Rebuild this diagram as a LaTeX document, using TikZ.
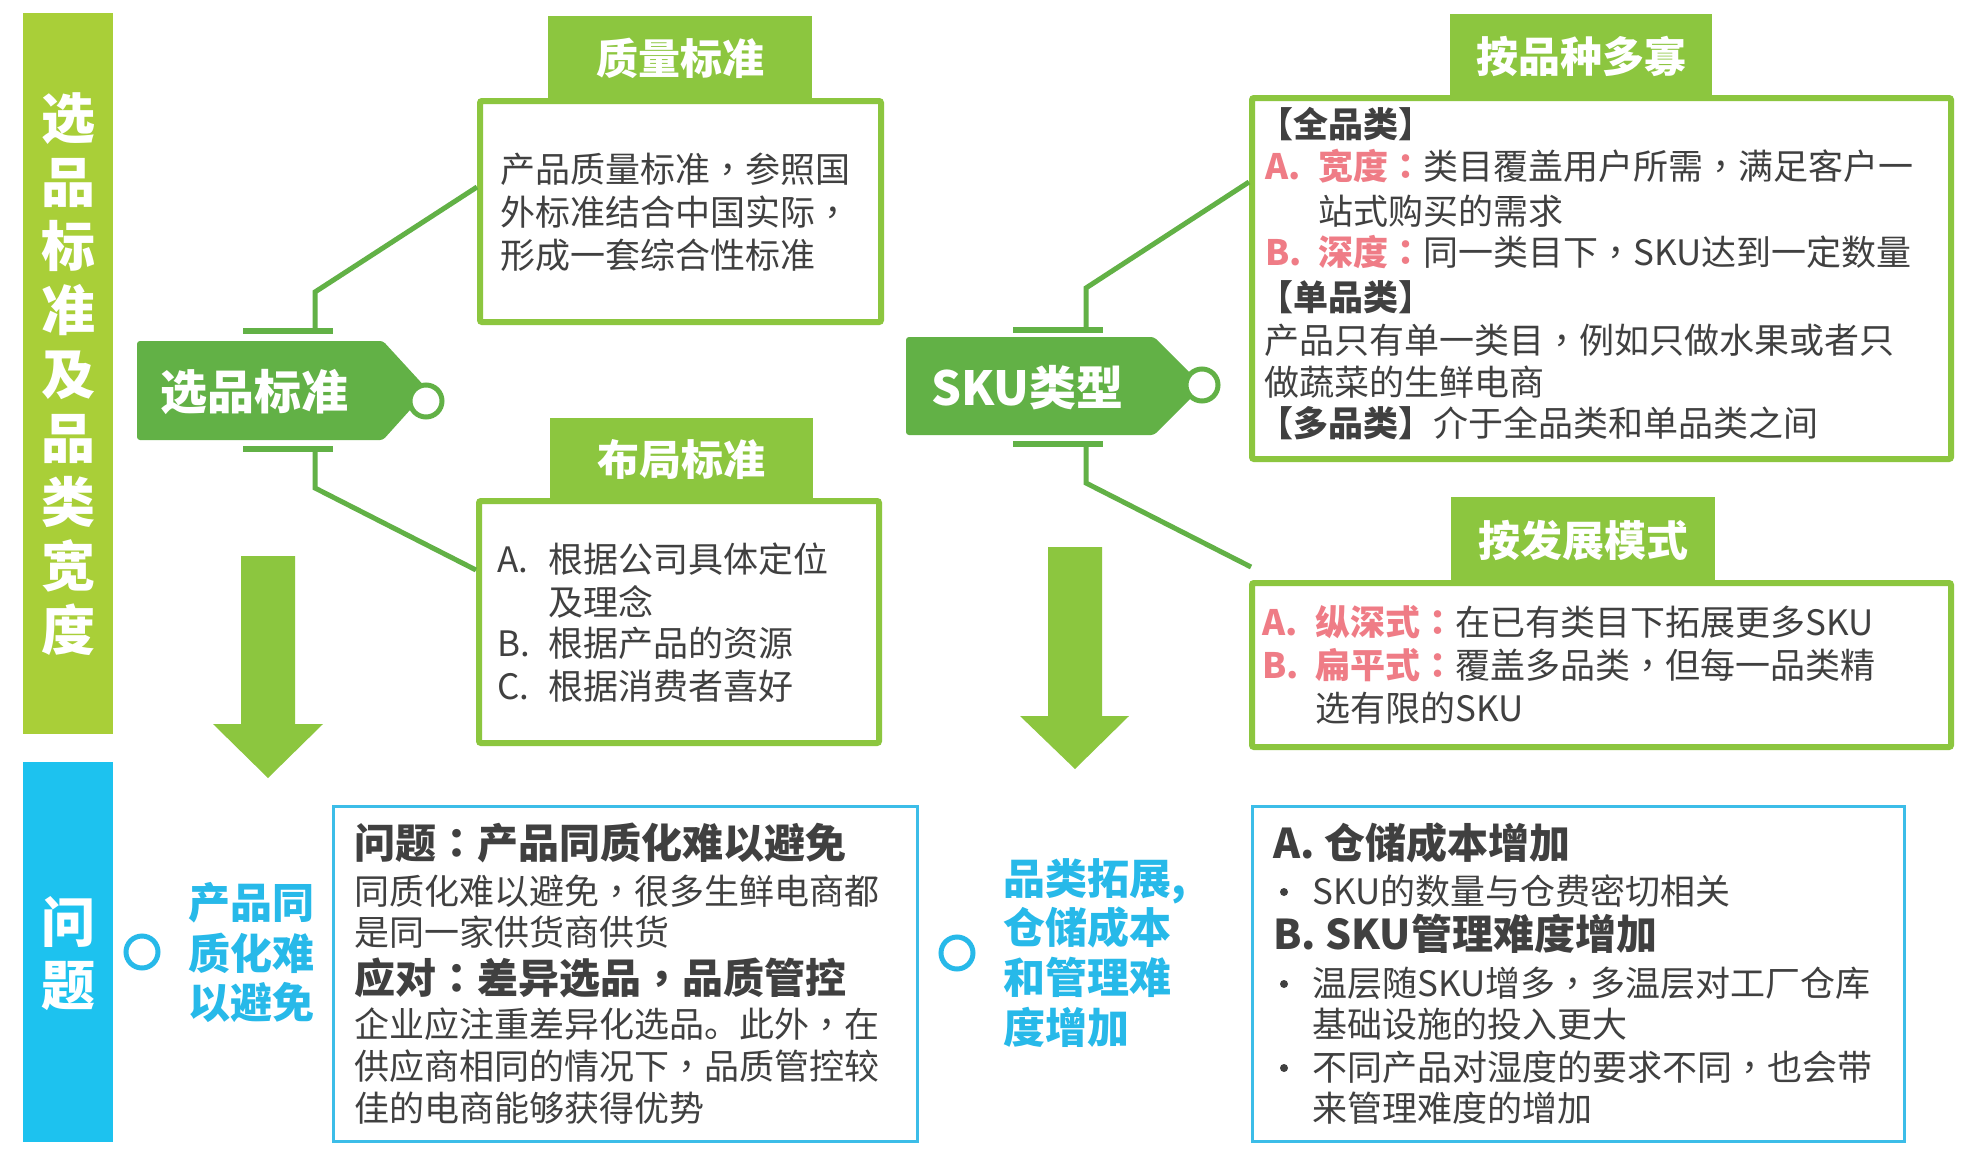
\documentclass[tikz,border=0pt]{standalone}
\usepackage{fontspec}
\setmainfont{Noto Sans CJK SC}
\newfontfamily\tcf{Noto Sans CJK TC}
\newcommand\cmx{{\tcf ，}}
\newcommand\clx{{\tcf ：}}
\definecolor{limebar}{HTML}{A9CF38}
\definecolor{cyanbar}{HTML}{1DC2EF}
\definecolor{tagg}{HTML}{62B146}
\definecolor{boxg}{HTML}{8CC63F}
\definecolor{pinkt}{HTML}{EF7C86}
\definecolor{tgray}{HTML}{404040}
\definecolor{cyant}{HTML}{27B9E9}
\definecolor{cyanb}{HTML}{3CBDE8}
\begin{document}
\begin{tikzpicture}[x=1pt,y=-1pt,
  txt/.style={anchor=west,inner sep=0pt,text=tgray,font=\fontsize{35pt}{42pt}\selectfont,text height=30.8pt,text depth=4.2pt},
  hd/.style={anchor=west,inner sep=0pt,text=tgray,font=\bfseries\fontsize{41pt}{48pt}\selectfont,text height=36.1pt,text depth=4.9pt},
  bluet/.style={anchor=west,inner sep=0pt,text=cyant,font=\bfseries\fontsize{42pt}{50pt}\selectfont,text height=37pt,text depth=5pt},
  bartxt/.style={anchor=center,inner sep=0pt,text=white,font=\bfseries\fontsize{54pt}{64pt}\selectfont,text height=47.5pt,text depth=6.5pt},
  tabbox/.style={fill=boxg,draw=none,inner sep=0pt,text=white,font=\bfseries\fontsize{42pt}{50pt}\selectfont,text height=37pt,text depth=5pt},
  gbox/.style={draw=boxg,fill=white,line width=6pt,rounded corners=2pt,inner sep=0pt},
  bbox/.style={draw=cyanb,fill=white,line width=3pt,inner sep=0pt},
  conn/.style={draw=tagg,line width=5pt},
  tbar/.style={draw=tagg,line width=6pt},
  tagtxt/.style={anchor=west,inner sep=0pt,text=white,font=\bfseries\fontsize{47pt}{55pt}\selectfont,text height=41.4pt,text depth=5.6pt},
  ring/.style={draw=tagg,fill=white,line width=5pt},
  bring/.style={draw=cyant,fill=white,line width=5pt},
  bul/.style={circle,fill=tgray,draw=none,inner sep=0pt,minimum size=8pt},
  garrow/.style={fill=boxg,draw=none}
]
\useasboundingbox (0,0) rectangle (1968,1151);
\fill[white] (0,0) rectangle (1968,1151);

% side bars
\node[fill=limebar,inner sep=0pt,minimum width=90pt,minimum height=721pt] (sidebar1) at (68,373.5) {};
\foreach \c [count=\i] in {选,品,标,准,及,品,类,宽,度}
  \node[bartxt] (v\i) at (68,{118+(\i-1)*64}) {\c};
\node[fill=cyanbar,inner sep=0pt,minimum width=90pt,minimum height=380pt] (sidebar2) at (68,952) {};
\node[bartxt] (w1) at (68,922) {问};
\node[bartxt] (w2) at (68,985) {题};

% tabs
\node[tabbox,minimum width=264pt,minimum height=85pt] (qtab) at (680,58.5) {质量标准};
\node[tabbox,minimum width=263pt,minimum height=83pt] (ltab) at (681.5,459.5) {布局标准};
\node[tabbox,minimum width=262pt,minimum height=84pt] (rtab1) at (1581,56) {按品种多寡};
\node[tabbox,minimum width=264pt,minimum height=86pt] (rtab2) at (1583,540) {按发展模式};

% green boxes
\node[gbox,minimum width=401pt,minimum height=221pt] (qbox) at (680.5,211.5) {};
\node[gbox,minimum width=400pt,minimum height=242pt] (lbox) at (679,622) {};
\node[gbox,minimum width=699pt,minimum height=361pt] (rbox1) at (1601.5,278.5) {};
\node[gbox,minimum width=699pt,minimum height=164pt] (rbox2) at (1601.5,665) {};

% blue boxes
\node[bbox,minimum width=584pt,minimum height=335pt] (bbox1) at (625.5,974) {};
\node[bbox,minimum width=652pt,minimum height=335pt] (bbox2) at (1578.5,974) {};

% arrows
\path[garrow] (241,556) -- (295,556) -- (295,724) -- (323,724) -- (268,778) -- (213,724) -- (241,724) -- cycle;
\path[garrow] (1048,547) -- (1102,547) -- (1102,716) -- (1129,716) -- (1075,769) -- (1020,716) -- (1048,716) -- cycle;

% connector coordinates
\coordinate (ltb1) at (243,331); \coordinate (ltb2) at (333,331);
\coordinate (lbb1) at (243,449); \coordinate (lbb2) at (333,449);
\coordinate (lt0) at (315,331); \coordinate (lt1) at (315,292); \coordinate (lt2) at (477,187);
\coordinate (lb0) at (315,449); \coordinate (lb1) at (315,488); \coordinate (lb2) at (476,570);
\coordinate (rtb1) at (1013,330); \coordinate (rtb2) at (1103,330);
\coordinate (rbb1) at (1013,444); \coordinate (rbb2) at (1103,444);
\coordinate (rt0) at (1086,330); \coordinate (rt1) at (1086,288); \coordinate (rt2) at (1249,182);
\coordinate (rb0) at (1086,444); \coordinate (rb1) at (1086,483); \coordinate (rb2) at (1251,567);

\draw[conn] (lt0) -- (lt1) -- (lt2);
\draw[conn] (lb0) -- (lb1) -- (lb2);
\draw[conn] (rt0) -- (rt1) -- (rt2);
\draw[conn] (rb0) -- (rb1) -- (rb2);
\draw[tbar] (ltb1) -- (ltb2);
\draw[tbar] (lbb1) -- (lbb2);
\draw[tbar] (rtb1) -- (rtb2);
\draw[tbar] (rbb1) -- (rbb2);

% tags
\fill[tagg,rounded corners=3pt] (137,341) -- (383,341) -- (428,390) -- (383,440) -- (137,440) -- cycle;
\draw[ring] (426,401) circle[radius=16pt];
\node[tagtxt] (tag1) at (160,392) {选品标准};
\fill[tagg,rounded corners=3pt] (906,337) -- (1154,337) -- (1203,386) -- (1154,435) -- (906,435) -- cycle;
\draw[ring] (1202,385) circle[radius=16pt];
\node[tagtxt] (tag2) at (931,388) {SKU类型};

% quality box text
\node[txt] (q1) at (500,169) {产品质量标准\cmx 参照国};
\node[txt] (q2) at (500,212) {外标准结合中国实际\cmx};
\node[txt] (q3) at (500,255) {形成一套综合性标准};

% layout box text
\node[txt] (la) at (497,559) {A.};
\node[txt] (lat) at (548,559) {根据公司具体定位};
\node[txt] (la2) at (548,602) {及理念};
\node[txt] (lb) at (497,643) {B.};
\node[txt] (lbt) at (548,643) {根据产品的资源};
\node[txt] (lc) at (497,686) {C.};
\node[txt] (lct) at (548,686) {根据消费者喜好};

% right box 1 text
\node[txt] (r1) at (1258,124) {\bfseries 【全品类】};
\node[txt] (r2a) at (1265,166) {\color{pinkt}\bfseries A.};
\node[txt] (r2) at (1318,166) {{\color{pinkt}\bfseries 宽度\clx}类目覆盖用户所需\cmx 满足客户一};
\node[txt] (r3) at (1318,211) {站式购买的需求};
\node[txt] (r4a) at (1265,252) {\color{pinkt}\bfseries B.};
\node[txt] (r4) at (1318,252) {{\color{pinkt}\bfseries 深度\clx}同一类目下\cmx SKU达到一定数量};
\node[txt] (r5) at (1258,297) {\bfseries 【单品类】};
\node[txt] (r6) at (1264,340) {产品只有单一类目\cmx 例如只做水果或者只};
\node[txt] (r7) at (1264,382) {做蔬菜的生鲜电商};
\node[txt] (r8) at (1258,423) {{\bfseries 【多品类】}介于全品类和单品类之间};

% right box 2 text
\node[txt] (s1a) at (1262,622) {\color{pinkt}\bfseries A.};
\node[txt] (s1) at (1315,622) {{\color{pinkt}\bfseries 纵深式\clx}在已有类目下拓展更多SKU};
\node[txt] (s2a) at (1262,665) {\color{pinkt}\bfseries B.};
\node[txt] (s2) at (1315,665) {{\color{pinkt}\bfseries 扁平式\clx}覆盖多品类\cmx 但每一品类精};
\node[txt] (s3) at (1315,708) {选有限的SKU};

% blue labels and rings
\draw[bring] (142,952) circle[radius=16pt];
\node[bluet] (c1) at (188,902) {产品同};
\node[bluet] (c2) at (188,953) {质化难};
\node[bluet] (c3) at (188,1002) {以避免};
\draw[bring] (957,953) circle[radius=16pt];
\node[bluet] (m1) at (1003,878) {品类拓展,};
\node[bluet] (m2) at (1003,927) {仓储成本};
\node[bluet] (m3) at (1003,977) {和管理难};
\node[bluet] (m4) at (1003,1027) {度增加};

% blue box 1 text
\node[hd] (p1) at (354,843) {问题\clx 产品同质化难以避免};
\node[txt] (p2) at (354,891) {同质化难以避免\cmx 很多生鲜电商都};
\node[txt] (p3) at (354,932) {是同一家供货商供货};
\node[hd] (p4) at (354,978) {应对\clx 差异选品\cmx 品质管控};
\node[txt] (p5) at (354,1024) {企业应注重差异化选品。此外\cmx 在};
\node[txt] (p6) at (354,1066) {供应商相同的情况下\cmx 品质管控较};
\node[txt] (p7) at (354,1108) {佳的电商能够获得优势};

% blue box 2 text
\node[hd] (k1) at (1273,843) {A. 仓储成本增加};
\node[bul] (k2b) at (1284,892) {};
\node[txt] (k2) at (1312,891) {SKU的数量与仓费密切相关};
\node[hd] (k3) at (1273,934) {B. SKU管理难度增加};
\node[bul] (k4b) at (1284,984) {};
\node[txt] (k4) at (1312,983) {温层随SKU增多\cmx 多温层对工厂仓库};
\node[txt] (k5) at (1312,1024) {基础设施的投入更大};
\node[bul] (k6b) at (1284,1068) {};
\node[txt] (k6) at (1312,1067) {不同产品对湿度的要求不同\cmx 也会带};
\node[txt] (k7) at (1312,1108) {来管理难度的增加};
\end{tikzpicture}
\end{document}
